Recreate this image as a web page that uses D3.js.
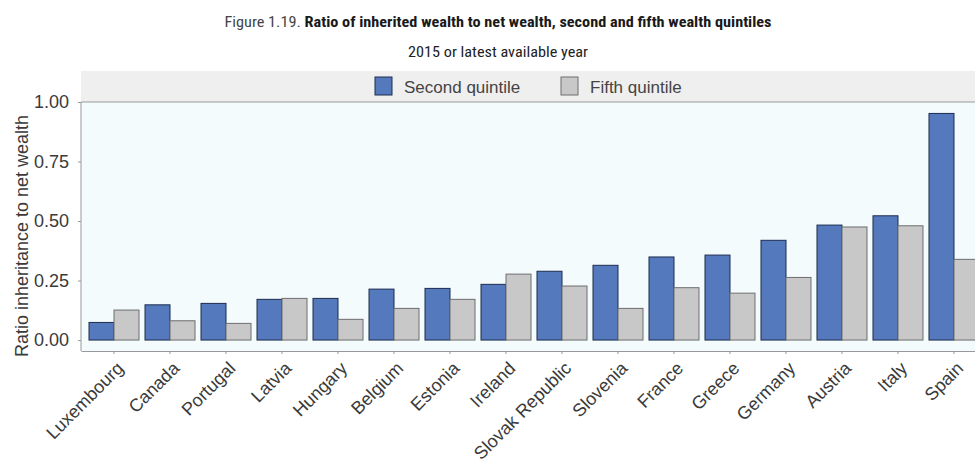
<!DOCTYPE html>
<html>
<head>
<meta charset="utf-8">
<script src="https://cdn.jsdelivr.net/npm/d3@7"></script>
<style>
    body { margin: 0; background: #fff; overflow: hidden; }
    svg { display: block; }
</style>
</head>
<body>
<svg id="chart"></svg>
<script>
// värden
const countries = ["Luxembourg", "Canada", "Portugal", "Latvia", "Hungary", "Belgium", "Estonia", "Ireland",
    "Slovak Republic", "Slovenia", "France", "Greece", "Germany", "Austria", "Italy", "Spain"];
const secondQuintile = [0.074, 0.148, 0.154, 0.171, 0.175, 0.214, 0.217, 0.234, 0.289, 0.314, 0.349, 0.357, 0.419, 0.483, 0.522, 0.952];
const fifthQuintile = [0.126, 0.081, 0.070, 0.175, 0.087, 0.133, 0.171, 0.277, 0.227, 0.133, 0.220, 0.197, 0.263, 0.475, 0.480, 0.339];
const seriesNames = ["Second quintile", "Fifth quintile"];
const yTicks = [0, 0.25, 0.5, 0.75, 1];

const hw = { wSvg: 975, hSvg: 470, left: 81, right: 987, top: 102, bottom: 351 };
const colors = { fill: ["#5479bd", "#c8c8c8"], stroke: ["#1d2c4f", "#6e6e6e"] };
const sans = "'Liberation Sans', Arial, sans-serif";
const narrow = "'Roboto Condensed', Roboto, sans-serif";

const rows = countries.map((c, i) => ({ country: c, values: [secondQuintile[i], fifthQuintile[i]] }));

let svg = d3.select("#chart")
    .attr("width", hw.wSvg)
    .attr("height", hw.hSvg)
    .style("font-family", sans);

const xScale = d3.scaleBand(countries, [hw.left, hw.right])
    .paddingInner(0.107)
    .paddingOuter(0.143);
const xInner = d3.scaleBand([0, 1], [0, xScale.bandwidth()]);
const yScale = d3.scaleLinear([-0.046, 1], [hw.bottom, hw.top]);

// titel
const title = svg.append("text")
    .attr("x", 498)
    .attr("y", 27)
    .attr("text-anchor", "middle")
    .style("font-family", narrow)
    .attr("font-size", "15px")
    .attr("fill", "#1a1a1a")
    .attr("textLength", 547)
    .attr("lengthAdjust", "spacingAndGlyphs");
title.append("tspan").attr("fill", "#444").text("Figure 1.19. ");
title.append("tspan").attr("font-weight", "bold").text("Ratio of inherited wealth to net wealth, second and fifth wealth quintiles");

svg.append("text")
    .attr("x", 498)
    .attr("y", 57)
    .attr("text-anchor", "middle")
    .style("font-family", narrow)
    .attr("font-size", "15px")
    .attr("fill", "#222")
    .attr("textLength", 180)
    .attr("lengthAdjust", "spacingAndGlyphs")
    .text("2015 or latest available year");

// legendband + plotyta
svg.append("rect")
    .attr("x", hw.left).attr("y", 71)
    .attr("width", hw.right - hw.left).attr("height", hw.top - 71)
    .attr("fill", "#efefef");
svg.append("rect")
    .attr("x", hw.left).attr("y", hw.top)
    .attr("width", hw.right - hw.left).attr("height", hw.bottom - hw.top)
    .attr("fill", "#f4fbfd");

const legendX = [375, 561];
const legend = svg.append("g").selectAll("g")
    .data(seriesNames)
    .enter()
    .append("g")
    .attr("transform", (d, i) => `translate(${legendX[i]}, 77)`);
legend.append("rect")
    .attr("width", 17).attr("height", 18)
    .attr("fill", (d, i) => colors.fill[i])
    .attr("stroke", (d, i) => colors.stroke[i]);
legend.append("text")
    .attr("x", 29).attr("y", 16)
    .attr("font-size", "17px")
    .attr("fill", "#444")
    .text(d => d);

// staplar
svg.append("g")
    .selectAll("g")
    .data(rows)
    .enter()
    .append("g")
    .attr("transform", d => `translate(${xScale(d.country)}, 0)`)
    .selectAll("rect")
    .data(d => d.values)
    .enter()
    .append("rect")
    .attr("x", (d, i) => xInner(i))
    .attr("y", d => yScale(d))
    .attr("width", xInner.bandwidth())
    .attr("height", d => yScale(0) - yScale(d))
    .attr("fill", (d, i) => colors.fill[i])
    .attr("stroke", (d, i) => colors.stroke[i])
    .attr("stroke-width", 1);

// axlar
const yAxis = svg.append("g")
    .attr("transform", `translate(${hw.left}, 0)`)
    .call(d3.axisLeft(yScale).tickValues(yTicks).tickFormat(d3.format(".2f")).tickSize(3).tickPadding(9));
yAxis.select(".domain").attr("stroke", "#999").attr("d", `M0,${hw.top}V${hw.bottom}`);
yAxis.selectAll(".tick line").attr("stroke", "#999");
yAxis.selectAll("text")
    .attr("font-size", "18px")
    .style("font-family", sans)
    .attr("fill", "#3a3a3a");

svg.append("line")
    .attr("x1", hw.left).attr("x2", hw.right)
    .attr("y1", hw.top).attr("y2", hw.top)
    .attr("stroke", "#999");

const xAxis = svg.append("g")
    .attr("transform", `translate(0, ${hw.bottom})`)
    .call(d3.axisBottom(xScale).tickSize(3).tickSizeOuter(0));
xAxis.select(".domain").attr("stroke", "#999");
xAxis.selectAll(".tick line").attr("stroke", "#999");
xAxis.selectAll("text")
    .attr("font-size", "18px")
    .style("font-family", sans)
    .attr("fill", "#3a3a3a")
    .attr("text-anchor", "end")
    .attr("dy", "0.35em")
    .attr("transform", "translate(6, 14) rotate(-45)")
    .attr("y", 0);

svg.append("text")
    .attr("transform", "translate(28, 236) rotate(-90)")
    .attr("text-anchor", "middle")
    .attr("font-size", "18px")
    .attr("fill", "#3a3a3a")
    .text("Ratio inheritance to net wealth");
</script>
</body>
</html>
